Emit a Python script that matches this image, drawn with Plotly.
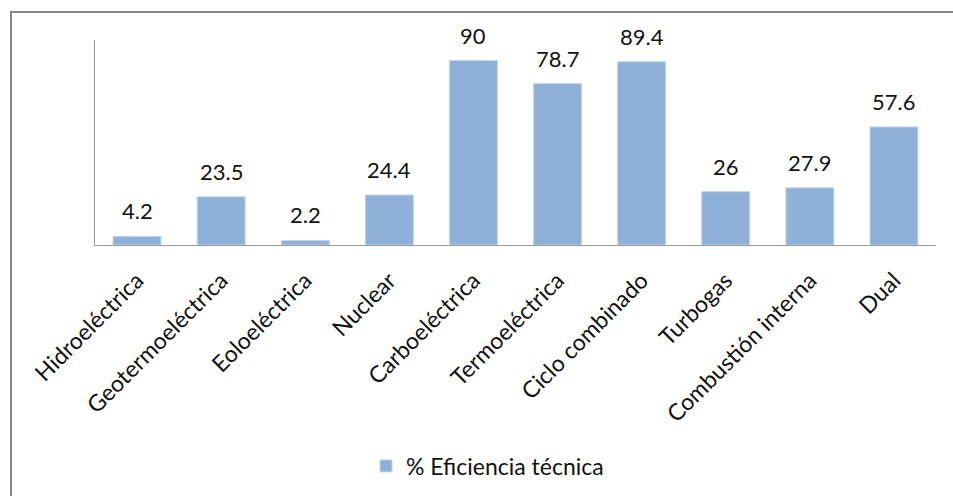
import plotly.graph_objects as go

categories = ["Hidroeléctrica", "Geotermoeléctrica", "Eoloeléctrica", "Nuclear",
              "Carboeléctrica", "Termoeléctrica", "Ciclo combinado", "Turbogas",
              "Combustión interna", "Dual"]
values = [4.2, 23.5, 2.2, 24.4, 90, 78.7, 89.4, 26, 27.9, 57.6]
value_labels = ["4.2", "23.5", "2.2", "24.4", "90", "78.7", "89.4", "26", "27.9", "57.6"]
series_name = "% Eficiencia técnica"

FONT = "Lato, Noto Sans, sans-serif"
TXT = "#111111"
W, H = 953, 496
L, R, T, B = 95, 17, 40, 251
pw, ph = W - L - R, H - T - B

fig = go.Figure()
fig.add_trace(go.Bar(
    x=categories, y=values, name=series_name,
    marker=dict(color="#8FB0D8", line=dict(color="#C3D4EA", width=1)),
    showlegend=True,
))

for c, v, t in zip(categories, values, value_labels):
    fig.add_annotation(x=c, y=v, text=t, showarrow=False, yanchor="bottom",
                       yshift=10, font=dict(family=FONT, size=22, color=TXT))

def px(x):
    return (x - L) / pw

def py(y):
    return 1 - (y - T) / ph

fig.add_shape(type="rect", xref="paper", yref="paper",
              x0=px(11), x1=px(990), y0=py(12), y1=py(540),
              line=dict(color="#878787", width=2), fillcolor="rgba(0,0,0,0)", layer="below")

fig.update_layout(
    width=W, height=H,
    margin=dict(l=L, r=R, t=T, b=B, autoexpand=False),
    paper_bgcolor="white", plot_bgcolor="white",
    bargap=0.43,
    font=dict(family=FONT, size=22, color=TXT),
    legend=dict(orientation="h", x=px(366), xanchor="left", y=py(466), yanchor="middle",
                font=dict(family=FONT, size=23, color=TXT),
                itemwidth=30, bgcolor="rgba(0,0,0,0)"),
)
fig.update_xaxes(showline=True, linecolor="#9A9A9A", linewidth=1, tickangle=-45,
                 ticks="", showgrid=False, tickfont=dict(family=FONT, size=23, color=TXT),
                 ticklabelstandoff=12)
fig.update_yaxes(range=[0, 100], showline=True, linecolor="#9A9A9A", linewidth=1,
                 showticklabels=False, ticks="", showgrid=False, zeroline=False)

fig.write_html("out.html", config={"displayModeBar": False},
               post_script="document.body.style.margin='0';document.body.style.overflow='hidden';")
